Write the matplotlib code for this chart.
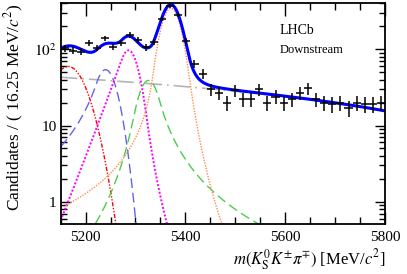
import numpy as np
import matplotlib.pyplot as plt
from matplotlib.ticker import FixedLocator, MultipleLocator, NullFormatter

plt.rcParams['font.family'] = ['Liberation Serif', 'DejaVu Serif']
plt.rcParams['mathtext.fontset'] = 'stix'

# binned data: 40 bins of 16.25 MeV from 5150 to 5800
m_lo, m_hi, n_bins = 5150, 5800, 40
counts = [103, 96, 93, 120, 105, 139, 108, 122, 154, 132,
          106, 126, 248, 370, 282, 130, 65, 48, 30, 27,
          20, 29, 22, 22, 30, 20, 24, 20, 22, 27,
          31, 22, 20, 19, 20, 17, 20, 19, 19, 20]

# fit components (peak height, mean, sigma, left alpha/n, right alpha/n)
names = ['red', 'blue', 'magenta', 'green', 'orange']
amp   = [59.6, 54.0, 97.0, 39.0, 345.0]
mean  = [5165, 5240, 5286, 5326, 5371]
sigma = [31.0, 20.0, 18.0, 20.0, 18.0]
aL    = [10.0, 0.9, 0.75, 1.5, 2.0]
nL    = [10.0, 2.0, 50.0, 3.0, 1.5]
aR    = [10.0, 10.0, 2.0, 1.1, 2.0]
nR    = [10.0, 10.0, 5.0, 2.0, 5.0]

# linear combinatorial background
bkg0, bkg_slope = 43.0, -0.0424


def cball(m, mu, sig, al, nl, ar, nr):
    t = (m - mu) / sig
    f = np.exp(-0.5 * t**2)
    lo = t < -al
    hi = t > ar
    f[lo] = np.exp(-0.5 * al**2) * ((nl / al) / (nl / al - al - t[lo]))**nl
    f[hi] = np.exp(-0.5 * ar**2) * ((nr / ar) / (nr / ar - ar + t[hi]))**nr
    return f


m = np.linspace(m_lo, m_hi, 1500)
comps = [a * cball(m, mu, s, al, nl, ar, nr)
         for a, mu, s, al, nl, ar, nr in zip(amp, mean, sigma, aL, nL, aR, nR)]
bkg = bkg0 + bkg_slope * (m - m_lo)
total = bkg + sum(comps)

fig = plt.figure(figsize=(4.07, 2.74), dpi=100)
ax = fig.add_axes([0.149, 0.1825, 0.797, 0.805])

styles = {
    'red':     dict(color='#ff0000', lw=1.0, ls=(0, (3, 1.2, 1, 1.2, 1, 1.2))),
    'blue':    dict(color='#6464e6', lw=1.0, ls=(0, (7, 3.5))),
    'magenta': dict(color='#ff00ff', lw=1.4, ls=(0, (1, 1))),
    'green':   dict(color='#4ccd4c', lw=1.0, ls=(0, (7, 3.5))),
    'orange':  dict(color='#ff8c50', lw=1.0, ls=(0, (1, 1))),
}
ax.plot(m, bkg, color='#b4b4b4', lw=1.2, ls=(0, (10, 3, 1, 3)))
for name, c in zip(names, comps):
    ax.plot(m, c, **styles[name])
ax.plot(m, total, color='#0000ff', lw=2.2)

edges = np.linspace(m_lo, m_hi, n_bins + 1)
centers = 0.5 * (edges[1:] + edges[:-1])
y = np.array(counts, dtype=float)
ax.errorbar(centers, y, xerr=0.5 * (edges[1] - edges[0]), yerr=np.sqrt(y),
            fmt='none', ecolor='black', elinewidth=1.1, capsize=0, zorder=5)

ax.set_xlim(m_lo, m_hi)
ax.set_yscale('log')
ax.set_ylim(0.51, 400)

ax.xaxis.set_major_locator(FixedLocator([5200, 5400, 5600, 5800]))
ax.xaxis.set_minor_locator(MultipleLocator(50))
ax.yaxis.set_major_locator(FixedLocator([1, 10, 100]))
ax.yaxis.set_minor_locator(FixedLocator([k * 10.0**e for e in (-1, 0, 1, 2) for k in range(2, 10)]))
ax.yaxis.set_minor_formatter(NullFormatter())
ax.set_yticklabels(['1', '10', '$10^2$'])

ax.tick_params(which='both', direction='in', top=True, right=True, labelsize=11, width=1.0)
ax.tick_params(axis='x', which='major', length=9, pad=5)
ax.tick_params(axis='x', which='minor', length=5)
ax.tick_params(axis='y', which='major', length=7, pad=3)
ax.tick_params(axis='y', which='minor', length=4)
for sp in ax.spines.values():
    sp.set_linewidth(1.3)

fig.text(386 / 407, 1 - 260 / 274, r'$m(K^0_{\rm S}K^{\pm}\pi^{\mp})$ [MeV/$c^2$]',
         fontsize=12, ha='right', va='center')
ax.set_ylabel(r'Candidates / ( 16.25 MeV/$c^2$)', fontsize=12.5, loc='top', labelpad=6)

ax.text(0.676, 0.879, 'LHCb', transform=ax.transAxes, fontsize=10, va='center', ha='left')
ax.text(0.676, 0.791, 'Downstream', transform=ax.transAxes, fontsize=9, va='center', ha='left')

fig.savefig('out.png', dpi=100)
